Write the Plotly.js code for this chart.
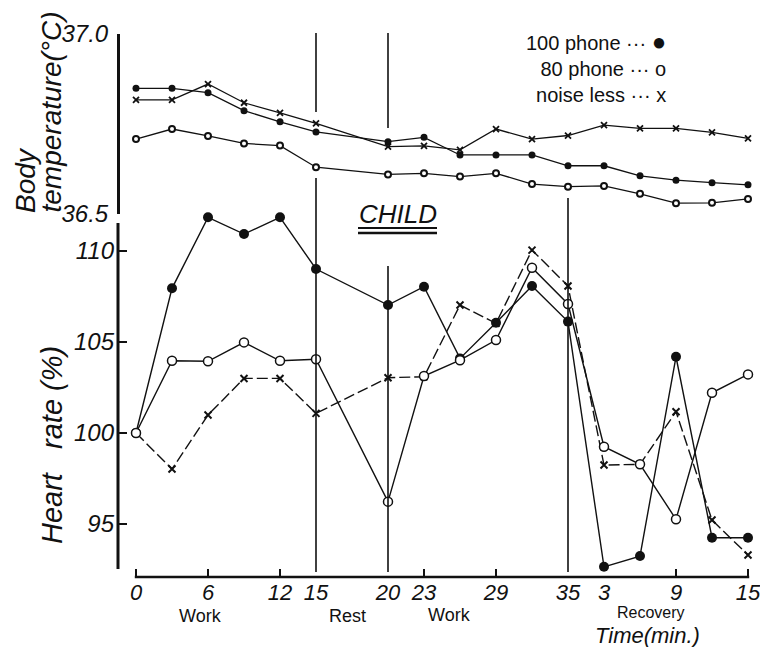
<!DOCTYPE html>
<html><head><meta charset="utf-8">
<script src="https://cdn.plot.ly/plotly-3.0.1.min.js"></script>
<style>html,body{margin:0;padding:0;background:#fff}#chart{width:760px;height:647px}</style>
</head><body><div id="chart"></div>
<script>
// Time axis: slot coordinate of each measurement (3-min steps; rest 15->20 spans two steps)
const timeSlot = [0,3,6,9,12,15,21,24,27,30,33,36,39,42,45,48,51];
const minutes  = [0,3,6,9,12,15,20,23,26,29,32,35,3,6,9,12,15];
const tickSlots  = [0,6,12,15,21,24,30,36,39,45,51];
const tickLabels = ['0','6','12','15','20','23','29','35','3','9','15'];
const tickMarkSlots = [0,6,12,24,30,45,51];
const phaseBoundarySlots = [15,21,36];
const phaseNames = ['Work','Rest','Work','Recovery'];

// Body temperature (°C)
const temp100   = [36.849,36.849,36.837,36.787,36.756,36.728,36.701,36.713,36.664,36.664,36.664,36.634,36.634,36.606,36.594,36.587,36.581];
const temp80    = [36.708,36.736,36.717,36.696,36.690,36.630,36.610,36.613,36.604,36.613,36.583,36.576,36.578,36.556,36.530,36.531,36.542];
const tempNoise = [36.817,36.817,36.861,36.809,36.781,36.752,36.687,36.689,36.678,36.736,36.708,36.718,36.747,36.738,36.738,36.727,36.710];

// Heart rate (%)
const hr100   = [100,107.95,111.85,110.93,111.85,109.01,107.03,108.04,104.10,106.06,108.08,106.12,92.65,93.24,104.19,94.25,94.25];
const hr80    = [100,103.97,103.94,104.98,103.97,104.05,96.23,103.13,104.0,105.11,109.08,107.09,99.25,98.28,95.26,102.21,103.22];
const hrNoise = [100,98.02,100.99,103.0,103.0,101.08,103.04,103.09,107.03,106.03,110.05,108.08,98.24,98.28,101.17,95.22,93.30];

const tempTicks = [36.5, 37.0];
const tempTickText = ['36.5','37.0'];
const hrTicks = [95,100,105,110];
const hrTickText = ['95','100','105','110'];
const hrAxisSpan = [92.53, 111.54];

const seriesNames = ['100 phone','80 phone','noise less'];

const W=760, H=647, L=118, R=0, T=34, B=70;
const plotW = W-L-R, plotH = H-T-B;
const px = x => (x-L)/plotW;
const py = y => (H-B-y)/plotH;

const FONT = 'Liberation Sans, Arial, sans-serif';
const INK = '#111';

const lineBase = {color: INK, width: 1.3};
const traces = [
  {x: timeSlot, y: temp100, text: minutes, name: seriesNames[0], xaxis:'x', yaxis:'y', mode:'lines+markers',
   line: lineBase, marker:{symbol:'circle', size:7, color:INK}, cliponaxis:false},
  {x: timeSlot, y: temp80, text: minutes, name: seriesNames[1], xaxis:'x', yaxis:'y', mode:'lines+markers',
   line: lineBase, marker:{symbol:'circle', size:6, color:'#fff', line:{color:INK, width:2}}, cliponaxis:false},
  {x: timeSlot, y: tempNoise, text: minutes, name: seriesNames[2], xaxis:'x', yaxis:'y', mode:'lines+markers',
   line: lineBase, marker:{symbol:'x-thin', size:6, color:INK, line:{color:INK, width:1.8}}, cliponaxis:false},
  {x: timeSlot, y: hr100, text: minutes, name: seriesNames[0], xaxis:'x', yaxis:'y2', mode:'lines+markers',
   line: {color: INK, width: 1.4}, marker:{symbol:'circle', size:10, color:INK}, cliponaxis:false},
  {x: timeSlot, y: hrNoise, text: minutes, name: seriesNames[2], xaxis:'x', yaxis:'y2', mode:'lines+markers',
   line: {color: INK, width: 1.4, dash:'11px,4px'}, marker:{symbol:'x-thin', size:7, color:INK, line:{color:INK, width:2}}, cliponaxis:false},
  {x: timeSlot, y: hr80, text: minutes, name: seriesNames[1], xaxis:'x', yaxis:'y2', mode:'lines+markers',
   line: {color: INK, width: 1.4}, marker:{symbol:'circle', size:9, color:'#fff', line:{color:INK, width:1.5}}, cliponaxis:false}
];

const shapes = [];
// x axis line
shapes.push({type:'line', xref:'x', yref:'paper', x0: timeSlot[0]-0.1, x1: timeSlot[timeSlot.length-1]+0.1, y0: py(577), y1: py(577), line:{color:INK, width:2.5}});
// heart-rate axis line
shapes.push({type:'line', xref:'paper', yref:'y2', x0:0, x1:0, y0: hrAxisSpan[0], y1: hrAxisSpan[1], line:{color:INK, width:3}});
// x tick marks
tickMarkSlots.forEach(s => shapes.push({type:'line', xref:'x', yref:'paper', x0:s, x1:s, y0:py(577), y1:py(569), line:{color:INK, width:2}}));
// phase boundary lines (with the gaps of the original)
const segs = [[[33,112],[178,572]], [[33,128],[266,572]], [[198,572]]];
phaseBoundarySlots.forEach((s,i) => segs[i].forEach(sg => shapes.push({type:'line', xref:'x', yref:'paper', x0:s, x1:s, y0:py(sg[0]), y1:py(sg[1]), line:{color:INK, width:1.6}})));
// CHILD double underline
shapes.push({type:'line', xref:'paper', yref:'paper', x0:px(358), x1:px(437), y0:py(228), y1:py(228), line:{color:INK, width:1.8}});
shapes.push({type:'line', xref:'paper', yref:'paper', x0:px(358), x1:px(437), y0:py(233), y1:py(233), line:{color:INK, width:2.5}});

const ital = (size) => ({family: FONT, size: size, color: INK, style: 'italic'});
const up = (size) => ({family: FONT, size: size, color: INK});
const dot = '<span style="font-size:24px">\u25cf</span>';

const annotations = [
  {text:'Body', textangle:-90, xref:'paper', yref:'paper', x:px(25), y:py(215), xanchor:'center', yanchor:'bottom', showarrow:false, font: ital(28)},
  {text:'temperature(°C)', textangle:-90, xref:'paper', yref:'paper', x:px(51), y:py(215), xanchor:'center', yanchor:'bottom', showarrow:false, font: ital(28)},
  {text:'Heart\u00a0\u00a0\u00a0rate (%)', textangle:-90, xref:'paper', yref:'paper', x:px(52), y:py(546), xanchor:'center', yanchor:'bottom', showarrow:false, font: ital(29)},
  {text:'CHILD', xref:'paper', yref:'paper', x:px(398), y:py(214), xanchor:'center', yanchor:'middle', showarrow:false, font: ital(26)},
  {text: seriesNames[0]+' \u00b7\u00b7\u00b7 '+dot+'<br>'+seriesNames[1]+' \u00b7\u00b7\u00b7 o<br>'+seriesNames[2]+' \u00b7\u00b7\u00b7 x',
   align:'right', xref:'paper', yref:'paper', x:px(668), y:py(26), xanchor:'right', yanchor:'top', showarrow:false, font: up(20)},
  {text: phaseNames[0], xref:'paper', yref:'paper', x:px(200), y:py(616), xanchor:'center', yanchor:'middle', showarrow:false, font: up(18)},
  {text: phaseNames[1], xref:'paper', yref:'paper', x:px(347), y:py(616), xanchor:'center', yanchor:'middle', showarrow:false, font: up(18)},
  {text: phaseNames[2], xref:'paper', yref:'paper', x:px(450), y:py(615), xanchor:'center', yanchor:'middle', showarrow:false, font: up(18)},
  {text: phaseNames[3], xref:'paper', yref:'paper', x:px(651), y:py(612.5), xanchor:'center', yanchor:'middle', showarrow:false, font: up(16)},
  {text:'Time(min.)', xref:'paper', yref:'paper', x:px(647), y:py(635), xanchor:'center', yanchor:'middle', showarrow:false, font: ital(22)}
];

const layout = {
  width: W, height: H,
  margin: {l:L, r:R, t:T, b:B, pad:0},
  paper_bgcolor:'#fff', plot_bgcolor:'rgba(0,0,0,0)',
  showlegend:false,
  font: {family: FONT, color: INK},
  xaxis: {range:[-1.5, 52], anchor:'free', position:0, showline:false, showgrid:false, zeroline:false,
          tickmode:'array', tickvals: tickSlots, ticktext: tickLabels, ticks:'', tickfont: ital(22), ticklabelstandoff: 0,
          ticklabeloverflow:'allow'},
  yaxis: {domain:[py(214), 1], range:[36.5, 37.0], anchor:'free', position:0, showline:true, linewidth:2.5, linecolor:INK,
          showgrid:false, zeroline:false, ticks:'inside', ticklen:7, tickwidth:2, tickcolor:INK,
          tickmode:'array', tickvals: tempTicks, ticktext: tempTickText, tickfont: ital(24), ticklabelstandoff: 4},
  yaxis2: {domain:[py(569), py(205)], range:[hrAxisSpan[0], 112.527], anchor:'free', position:0, showline:false,
          showgrid:false, zeroline:false, ticks:'inside', ticklen:8, tickwidth:2, tickcolor:INK,
          tickmode:'array', tickvals: hrTicks, ticktext: hrTickText, tickfont: ital(24), ticklabelstandoff: 4},
  shapes: shapes,
  annotations: annotations
};

Plotly.newPlot('chart', traces, layout, {displayModeBar:false, staticPlot:true});
</script>
</body></html>
